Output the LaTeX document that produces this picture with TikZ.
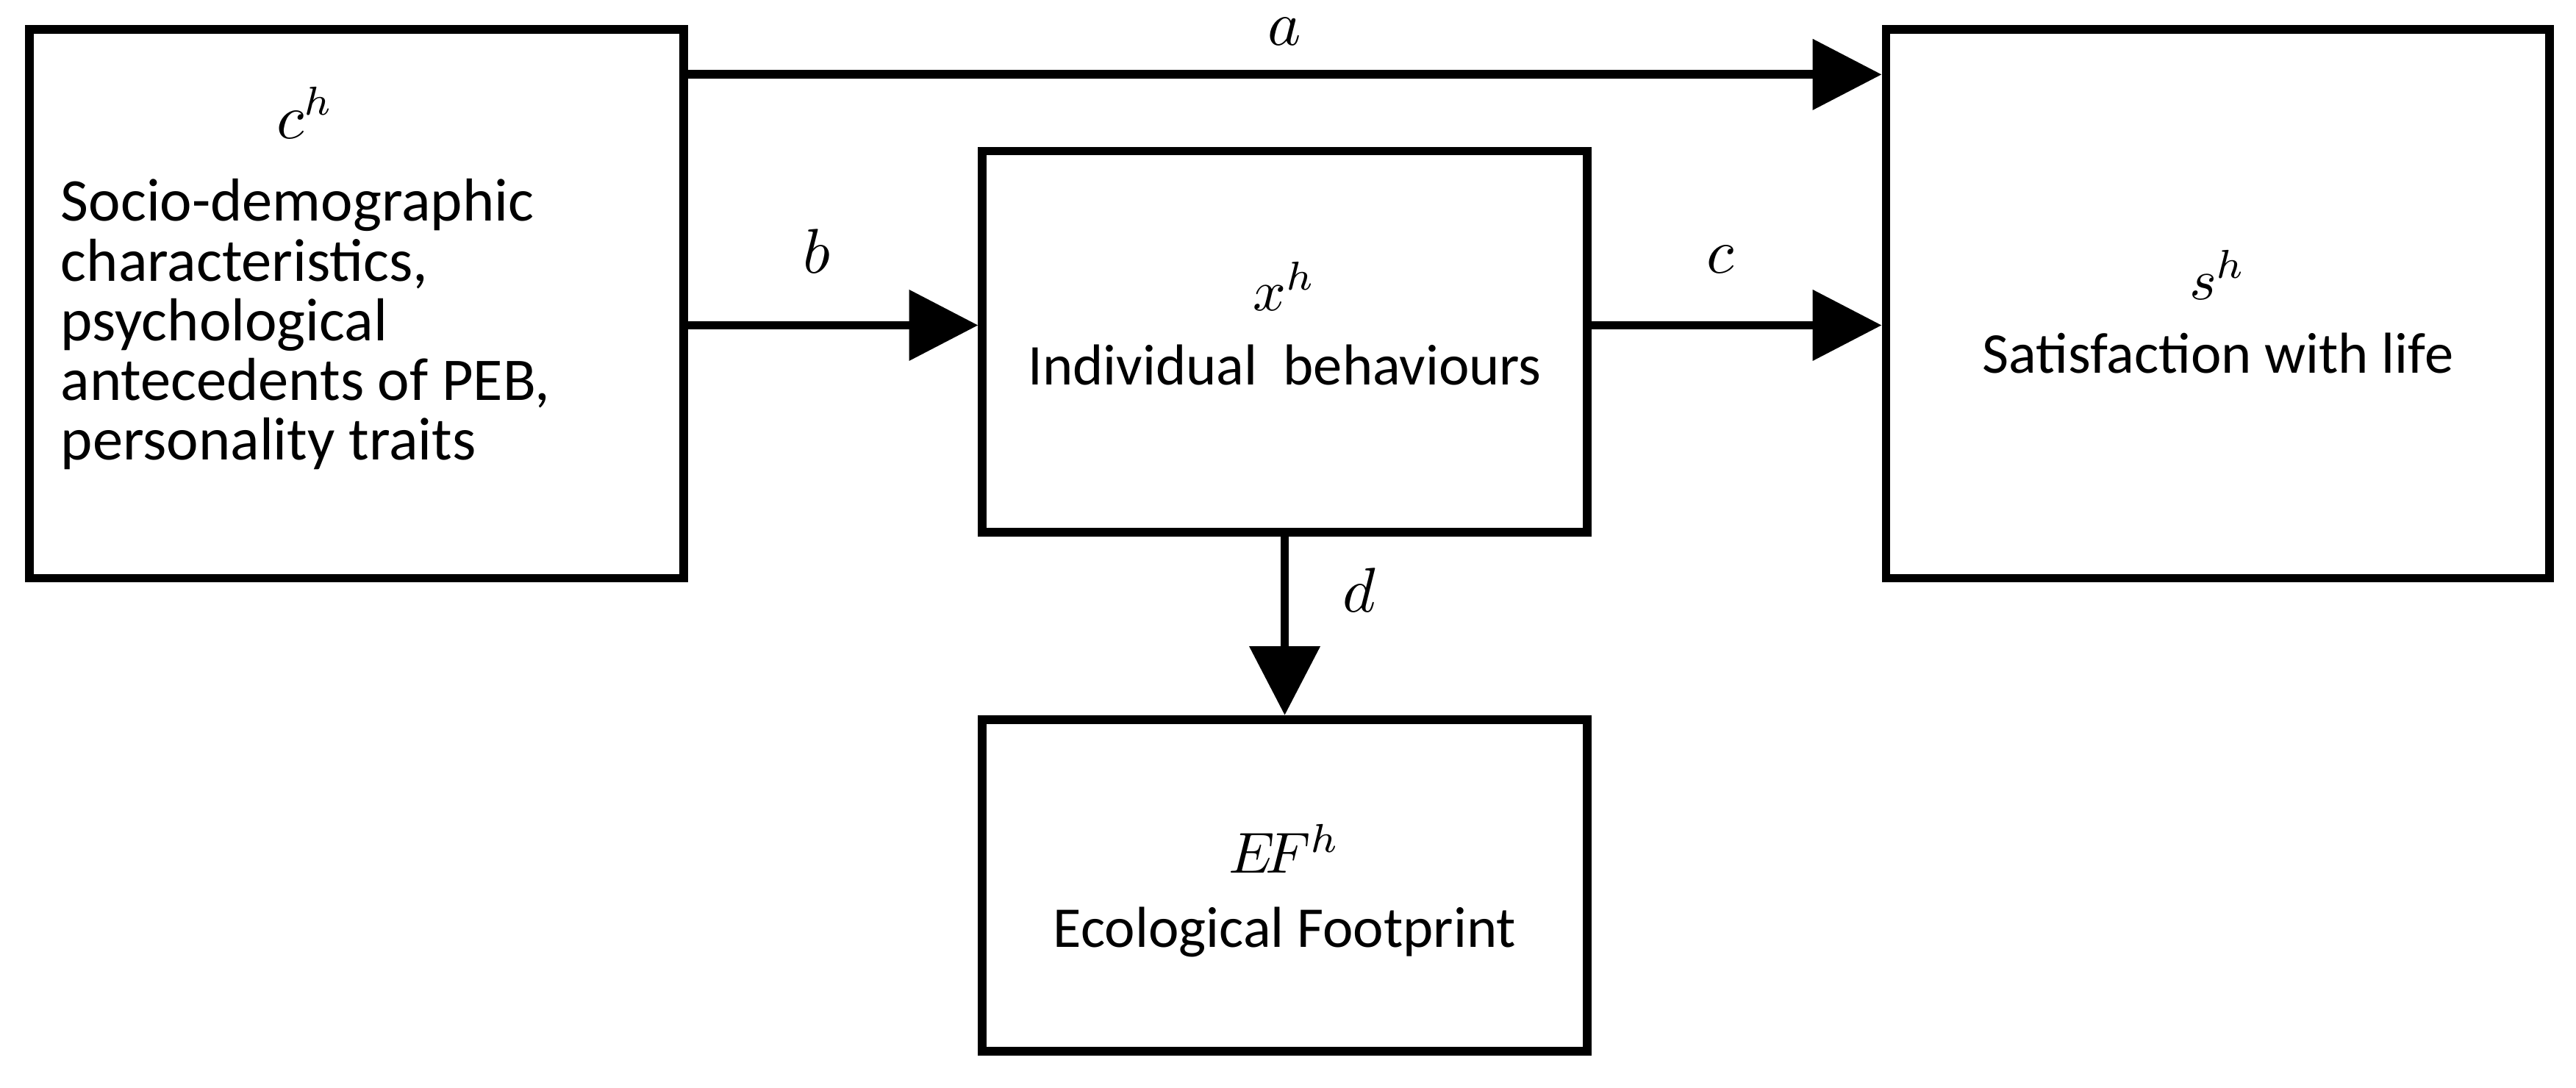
\documentclass[tikz,border=0pt]{standalone}
\usepackage{fontspec}
\setmainfont{Carlito}
\usetikzlibrary{arrows.meta,positioning}
\tikzset{
  box/.style={draw,line width=1.5pt,inner sep=0pt,font=\fontsize{10}{11}\selectfont,align=center},
  arr/.style={line width=1.5pt,-{Triangle[length=0.42cm,width=0.42cm]}},
  lbl/.style={font=\fontsize{11}{12}\selectfont}
}
\begin{document}
\begin{tikzpicture}
\useasboundingbox (0,0) rectangle (15.68,6.62);

% boxes
\node[box,minimum width=3.98cm,minimum height=3.34cm] (cause) at (2.17,4.77) {};
\node[box,minimum width=3.68cm,minimum height=2.32cm] (behav) at (7.82,4.54) {};
\node[box,minimum width=4.04cm,minimum height=3.34cm] (satis) at (13.5,4.77) {};
\node[box,minimum width=3.68cm,minimum height=2.02cm] (foot) at (7.82,1.23) {};

% texts
\node[font=\fontsize{10.5}{10.2}\selectfont,inner sep=0pt] (causetxt) at (1.86,4.9)
  {\begin{tabular}{@{}l@{}}\multicolumn{1}{c}{$c^h$}\\[4pt]Socio-demographic\\characteristics,\\psychological\\antecedents of PEB,\\personality traits\end{tabular}};
\node[font=\fontsize{10}{12.8}\selectfont,align=center] (behavtxt) at (7.82,4.65) {$x^h$\\Individual\ \ behaviours};
\node[font=\fontsize{10}{12.8}\selectfont,align=center] (satistxt) at (13.5,4.72) {$s^h$\\Satisfaction with life};
\node[font=\fontsize{10}{12.8}\selectfont,align=center] (foottxt) at (7.82,1.2) {$E\!F^h$\\Ecological Footprint};

% arrows
\draw[arr] ([yshift=-3mm]cause.north east) -- ([yshift=-3mm]cause.north east -| satis.west)
  node[lbl,midway,above=1pt] {$a$};
\draw[arr] ([yshift=1mm]behav.west -| cause.east) -- ([yshift=1mm]behav.west)
  node[lbl,midway,above=5pt,xshift=-1mm] {$b$};
\draw[arr] ([yshift=1mm]behav.east) -- ([yshift=1mm]behav.east -| satis.west)
  node[lbl,midway,above=5pt,xshift=-1mm] {$c$};
\draw[arr] (behav.south) -- (foot.north)
  node[lbl,pos=0.3,right=6pt] {$d$};
\end{tikzpicture}
\end{document}
